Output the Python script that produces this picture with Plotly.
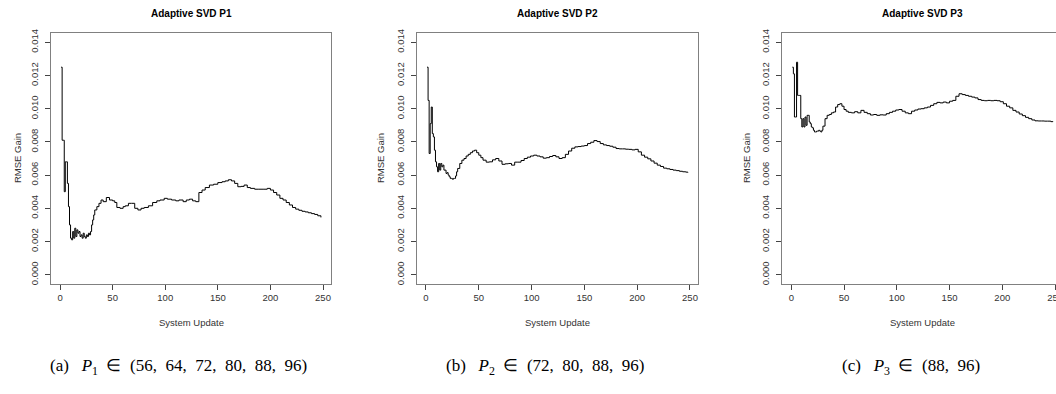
import plotly.graph_objects as go

# ---------------- data (RMSE gain, in units of 1e-3) ----------------
update_p1 = list(range(1, 31)) + [
    31, 32, 33, 35, 37, 39, 41, 44, 47, 50,
    52, 54, 57, 60, 62, 65, 68, 71, 74, 77,
    80, 84, 88, 92, 95, 99, 102, 106, 110, 113,
    117, 120, 123, 126, 129, 132, 135, 138, 142, 146,
    150, 154, 157, 160, 163, 166, 169, 172, 175, 178,
    181, 185, 189, 193, 197, 200, 203, 206, 209, 212,
    215, 218, 221, 224, 227, 230, 233, 236, 239, 242,
    245, 248]
gain_p1_milli = [
    12.5, 8.1, 8.1, 5.0, 6.8, 6.8, 5.5, 4.1, 3.0, 2.2,
    2.1, 2.6, 2.2, 2.8, 2.3, 2.7, 2.5, 2.6, 2.3, 2.4,
    2.2, 2.5, 2.3, 2.2, 2.4, 2.3, 2.5, 2.4, 2.6, 3.0,
    3.3, 3.6, 3.9, 4.1, 4.3, 4.5, 4.4, 4.65, 4.5, 4.45,
    4.35, 4.05, 4.0, 4.1, 4.15, 4.3, 4.3, 4.0, 3.9, 4.0,
    4.05, 4.15, 4.35, 4.45, 4.5, 4.6, 4.55, 4.5, 4.45, 4.5,
    4.4, 4.5, 4.55, 4.45, 4.4, 4.95, 5.1, 5.25, 5.4, 5.45,
    5.55, 5.6, 5.65, 5.72, 5.65, 5.5, 5.3, 5.32, 5.4, 5.25,
    5.2, 5.15, 5.15, 5.15, 5.2, 5.1, 4.95, 4.8, 4.6, 4.5,
    4.35, 4.2, 4.05, 3.95, 3.88, 3.82, 3.78, 3.73, 3.68, 3.63,
    3.55, 3.45]

update_p23 = list(range(1, 31)) + list(range(32, 55, 2)) + list(range(57, 247, 3)) + [248]
gain_p2_milli = [
    12.5, 10.5, 7.3, 9.1, 10.1, 8.5, 8.3, 7.5, 6.8, 6.5,
    6.2, 6.7, 6.3, 6.7, 6.5, 6.6, 6.3, 6.3, 6.1, 6.15,
    6.0, 5.9, 5.8, 5.8, 5.75, 5.8, 5.8, 5.95, 6.2, 6.4,
    6.7, 6.9, 7.0, 7.15, 7.25, 7.35, 7.45, 7.5, 7.35, 7.2, 7.05, 6.9,
    6.78, 6.8, 6.92, 7.0, 6.85, 6.65, 6.68, 6.7, 6.6, 6.78,
    6.78, 6.88, 7.0, 7.08, 7.15, 7.2, 7.15, 7.1, 7.02, 7.05,
    7.12, 7.18, 7.1, 7.0, 7.05, 7.25, 7.45, 7.62, 7.7, 7.72,
    7.75, 7.78, 7.9, 7.98, 8.08, 8.02, 7.9, 7.82, 7.78, 7.74,
    7.68, 7.6, 7.58, 7.58, 7.56, 7.55, 7.52, 7.55, 7.4, 7.2,
    7.08, 6.98, 6.85, 6.72, 6.6, 6.52, 6.42, 6.38, 6.34, 6.3,
    6.27, 6.23, 6.2, 6.18,
    6.15]
gain_p3_milli = [
    12.5, 12.1, 9.5, 9.5, 12.8, 10.8, 10.8, 10.8, 9.4, 8.9,
    9.4, 8.9, 9.5, 9.0, 9.6, 9.6, 9.2, 9.1, 8.9, 8.85,
    8.7, 8.6, 8.6, 8.65, 8.65, 8.7, 8.65, 8.6, 8.7, 8.95,
    9.4, 9.6, 9.65, 9.75, 9.8, 10.1, 10.25, 10.3, 10.15, 9.95, 9.85, 9.78,
    9.75, 9.82, 9.75, 9.9, 9.78, 9.7, 9.62, 9.65, 9.6, 9.63,
    9.62, 9.7, 9.78, 9.85, 9.92, 9.95, 9.85, 9.75, 9.7, 9.85,
    9.92, 9.98, 10.0, 10.05, 10.1, 10.2, 10.3, 10.38, 10.35, 10.4,
    10.35, 10.45, 10.5, 10.75, 10.9, 10.85, 10.8, 10.75, 10.7, 10.65,
    10.55, 10.5, 10.48, 10.5, 10.48, 10.5, 10.48, 10.42, 10.3, 10.15,
    10.05, 9.9, 9.8, 9.68, 9.58, 9.48, 9.4, 9.32, 9.27, 9.26,
    9.26, 9.25, 9.25, 9.22,
    9.2]

titles = ["Adaptive SVD P1", "Adaptive SVD P2", "Adaptive SVD P3"]
x_title = "System Update"
y_title = "RMSE Gain"
x_ticks = [0, 50, 100, 150, 200, 250]
y_ticks = [0.000, 0.002, 0.004, 0.006, 0.008, 0.010, 0.012, 0.014]
captions = [
    "(a)\u00a0\u00a0\u00a0<i>P</i><sub>1</sub>\u00a0\u00a0∈\u00a0\u00a0(56,\u00a0 64,\u00a0 72,\u00a0 80,\u00a0 88,\u00a0 96)",
    "(b)\u00a0\u00a0\u00a0<i>P</i><sub>2</sub>\u00a0\u00a0∈\u00a0\u00a0(72,\u00a0 80,\u00a0 88,\u00a0 96)",
    "(c)\u00a0\u00a0\u00a0<i>P</i><sub>3</sub>\u00a0\u00a0∈\u00a0\u00a0(88,\u00a0 96)",
]

# ---------------- layout geometry ----------------
W, H = 1056, 394
x_domains = [(50.7 / W, 331.3 / W), (416.6 / W, 698.3 / W), (781.9 / W, 1.0)]
x_ranges = [[-8.88, 257.88], [-8.88, 257.88], [-8.88, 250.9]]
y_domain = (1 - 284 / H, 1 - 33 / H)
y_range = [-0.00056, 0.01456]
ytitle_px = [17, 380, 746]
caption_px = [178, 545, 911]

series = [(update_p1, gain_p1_milli), (update_p23, gain_p2_milli), (update_p23, gain_p3_milli)]

fig = go.Figure()
label_font = dict(family="Liberation Sans, Arial, sans-serif", size=9.5, color="#333333")
annotations = []
for i, (xs, ys) in enumerate(series):
    n = "" if i == 0 else str(i + 1)
    fig.add_trace(go.Scatter(
        x=xs, y=[v * 1e-3 for v in ys], mode="lines",
        line=dict(color="black", width=1, shape="hv"),
        xaxis="x" + n, yaxis="y" + n, showlegend=False, hoverinfo="skip"))
    axis_common = dict(
        ticks="outside", ticklen=5, tickwidth=1, tickcolor="#444444",
        showline=True, mirror=True, linecolor="#808080", linewidth=1,
        showgrid=False, zeroline=False, tickfont=label_font,
        ticklabeloverflow="allow", fixedrange=True, automargin=False)
    fig.layout["xaxis" + n] = dict(
        domain=list(x_domains[i]), range=x_ranges[i], anchor="y" + n,
        tickvals=x_ticks, **axis_common)
    fig.layout["yaxis" + n] = dict(
        domain=list(y_domain), range=y_range, anchor="x" + n,
        tickvals=y_ticks, ticktext=["%.3f" % t for t in y_ticks],
        tickangle=-90, ticklabelstandoff=3, **axis_common)
    cx = (x_domains[i][0] * W + 140.8) / W
    annotations.append(dict(
        text="<b>%s</b>" % titles[i], x=cx, y=1 - 13.5 / H, xref="paper", yref="paper",
        showarrow=False, xanchor="center", yanchor="middle",
        font=dict(family="Liberation Sans, Arial, sans-serif", size=10, color="black")))
    annotations.append(dict(
        text=x_title, x=cx, y=1 - 322 / H, xref="paper", yref="paper",
        showarrow=False, xanchor="center", yanchor="middle", font=label_font))
    annotations.append(dict(
        text=y_title, x=ytitle_px[i] / W, y=1 - 158 / H, xref="paper", yref="paper",
        showarrow=False, xanchor="center", yanchor="middle", textangle=-90, font=label_font))
    annotations.append(dict(
        text=captions[i], x=caption_px[i] / W, y=1 - 367 / H, xref="paper", yref="paper",
        showarrow=False, xanchor="center", yanchor="middle",
        font=dict(family="Liberation Serif, Times New Roman, serif", size=17, color="black")))

fig.update_layout(
    width=W, height=H, margin=dict(l=0, r=0, t=0, b=0, autoexpand=False),
    paper_bgcolor="white", plot_bgcolor="white",
    annotations=annotations, showlegend=False)

page_fix = (
    "document.body.style.margin='0';"
    "document.body.style.overflow='hidden';"
)
fig.write_html("out.html", config={"displayModeBar": False}, post_script=page_fix)
